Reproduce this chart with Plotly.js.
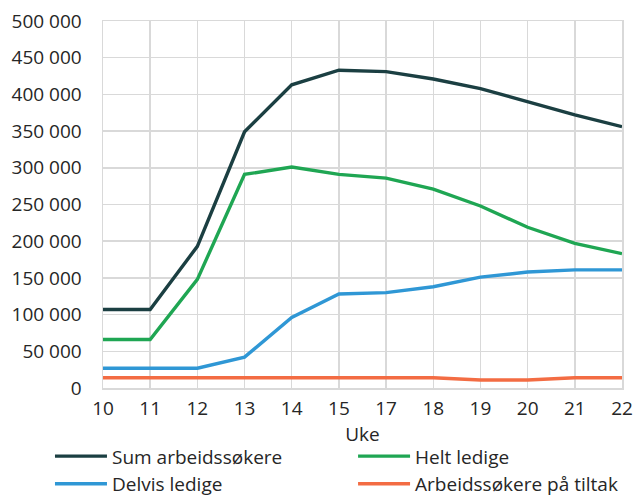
<!DOCTYPE html>
<html><head><meta charset="utf-8">
<script src="https://cdn.plot.ly/plotly-3.0.1.min.js"></script>
<style>html,body{margin:0;padding:0;background:#fff;}#chart{width:635px;height:498px;}</style>
</head><body><div id="chart"></div>
<script>
const weeks = ["10","11","12","13","14","15","17","18","19","20","21","22"];
const sumArbeidssokere = [107000,107000,193000,349000,413000,433000,431000,421000,408000,390000,372000,356000];
const heltLedige = [66000,66000,148000,291000,301000,291000,286000,271000,248000,219000,197000,183000];
const delvisLedige = [27000,27000,27000,42000,96000,128000,130000,138000,151000,158000,161000,161000];
const tiltak = [14000,14000,14000,14000,14000,14000,14000,14000,11000,11000,14000,14000];
const seriesNames = ["Sum arbeidssøkere","Helt ledige","Delvis ledige","Arbeidssøkere på tiltak"];
const colors = ["#1b3f42","#1fa653","#2f97d5","#f36c43"];
const legendOf = ["legend","legend2","legend","legend2"];
const seriesData = [sumArbeidssokere, heltLedige, delvisLedige, tiltak];
const traces = seriesData.map((d, i) => ({
  x: weeks, y: d, name: seriesNames[i], type: 'scatter', mode: 'lines',
  line: {color: colors[i], width: 3.4}, legend: legendOf[i]
}));
const font = {family: "Open Sans, sans-serif", size: 19, color: "#262626"};
const legendBase = {
  orientation: 'v', xref: 'container', yref: 'container', xanchor: 'left', y: 0.122, yanchor: 'top',
  font: font, tracegroupgap: 0, itemwidth: 52, bgcolor: 'rgba(0,0,0,0)'
};
Plotly.newPlot('chart', traces, {
  width: 635, height: 498,
  margin: {l: 103, r: 13, t: 21, b: 110, autoexpand: false},
  paper_bgcolor: '#fff', plot_bgcolor: '#fff',
  separators: ', ',
  font: font,
  showlegend: true,
  xaxis: {
    type: 'category', range: [0, 11], showgrid: true, gridcolor: '#d9d9d9', gridwidth: 1.5,
    showline: true, linecolor: '#d9d9d9', linewidth: 1.5, mirror: true,
    ticks: '', tickfont: font, ticklabelstandoff: 3,
    title: {text: 'Uke', font: font, standoff: 0}
  },
  yaxis: {
    range: [0, 500000], dtick: 50000, tickformat: ',d', showgrid: true, gridcolor: '#d9d9d9', gridwidth: 1.5,
    showline: true, linecolor: '#d9d9d9', linewidth: 1.5, mirror: true, zeroline: false,
    ticks: '', tickfont: font, ticklabelstandoff: 16
  },
  legend: Object.assign({}, legendBase, {x: 0.0787}),
  legend2: Object.assign({}, legendBase, {x: 0.556})
}, {displayModeBar: false, staticPlot: true});
</script></body></html>
